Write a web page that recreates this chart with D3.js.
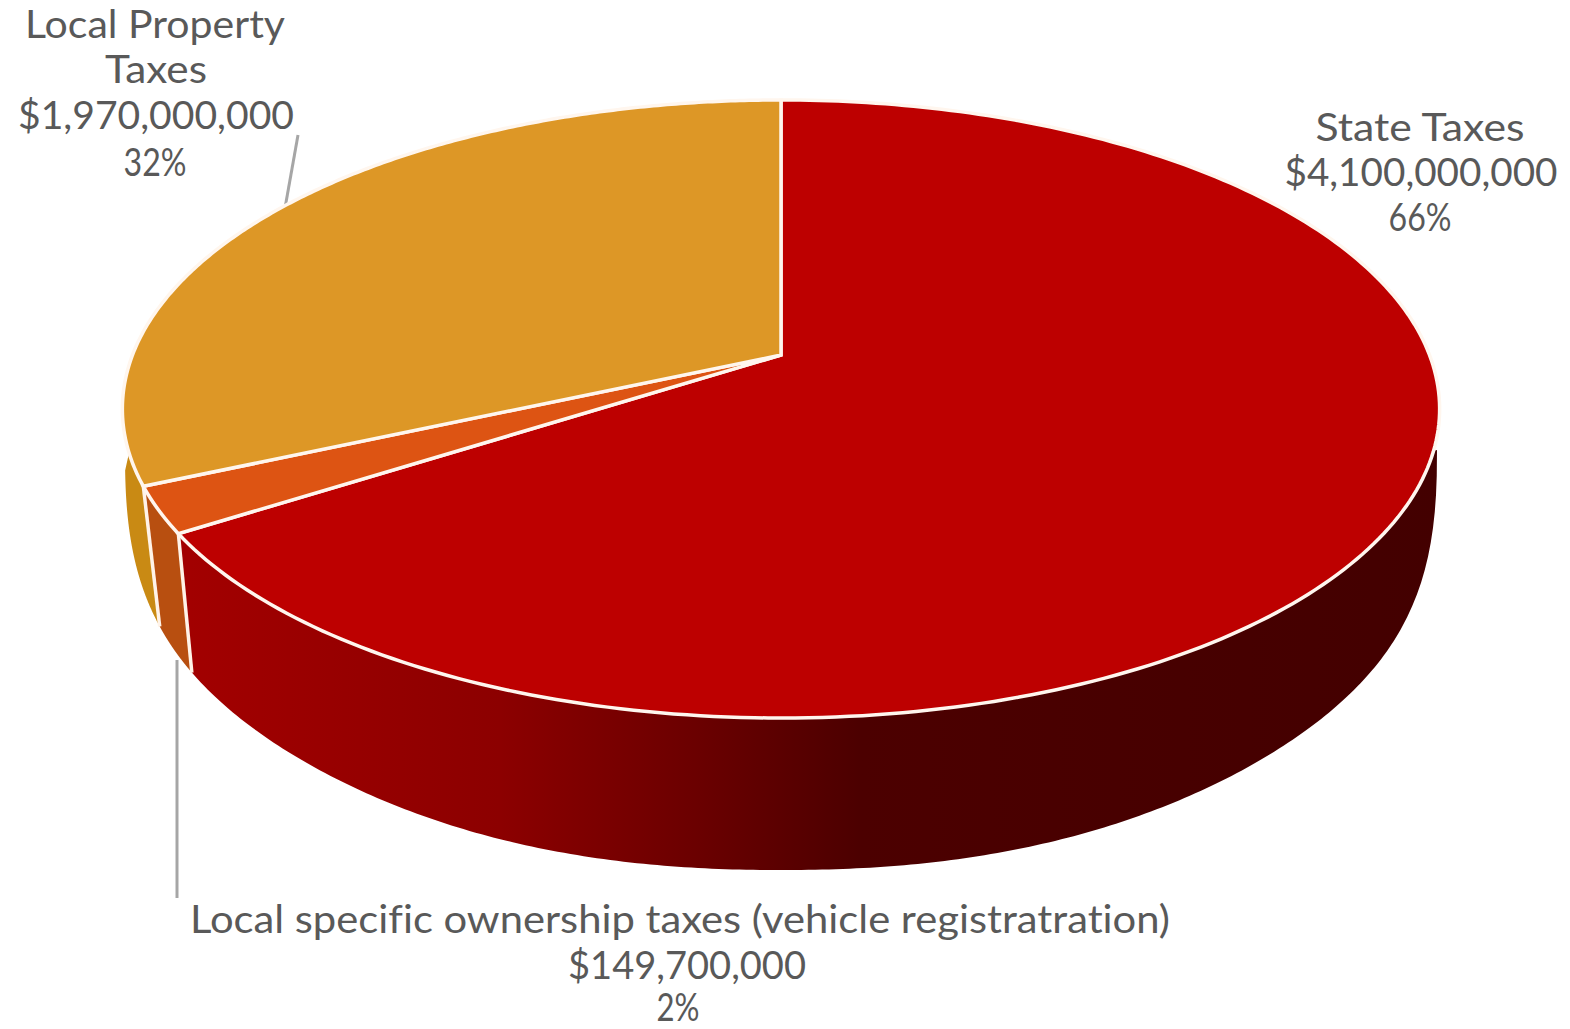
<!DOCTYPE html>
<html>
<head>
<meta charset="utf-8">
<script src="https://cdn.jsdelivr.net/npm/d3@7"></script>
<style>
  html, body { margin: 0; background: #fff; }
  svg { display: block; }
  text { font-family: Lato, "Noto Sans", sans-serif; font-size: 38px; fill: #595959; text-anchor: middle; font-variant-ligatures: none; }
</style>
</head>
<body>
<svg id="chart" width="1570" height="1029"></svg>
<script>
// Revenue sources, in slice order clockwise from twelve o'clock
const sources = ["State Taxes", "Local specific ownership taxes (vehicle registratration)", "Local Property Taxes"];
const amounts = [4100000000, 149700000, 1970000000];
const topColors = ["#bd0000", "#dd5413", "#dd9726"];
const sideColors = ["url(#stateSide)", "#b84f10", "#c98a14"];

// Label lines: [text, centre x, baseline y, drawn width]
const labelLines = [
  ["State Taxes", 1420, 141, 209],
  ["$4,100,000,000", 1421, 186, 273],
  ["66%", 1420, 231, 63],
  ["Local specific ownership taxes (vehicle registratration)", 680, 933, 980],
  ["$149,700,000", 687, 979, 238],
  ["2%", 678, 1021, 43],
  ["Local Property", 155, 38, 260],
  ["Taxes", 156, 83, 102],
  ["$1,970,000,000", 156, 129, 276],
  ["32%", 155, 176, 63]
];

// Side shading of the large slice, left to right
const shadeStops = [[190, "#a20000"], [500, "#8c0000"], [700, "#6a0000"], [860, "#4c0000"], [1440, "#430000"]];

// Tilted-disc projection of the top face: (u, v) on the unit circle
const tilt = { cx: 781, cy: 355, rx: 648.5, ry: 299.6, k: 0.1747 };
function projectTop(angle, radius) {
  const u = radius * Math.sin(angle), v = -radius * Math.cos(angle);
  const w = 1 - tilt.k * v;
  return [tilt.cx + tilt.rx * u / w, tilt.cy + tilt.ry * v / w];
}

// Lower rim of the wall: a curve that squares off toward the two side tips
const lower = { cy: 450, rx: 656, ry: 420 };
const sweep = d3.scaleLinear().domain([0, 57.3, 66, 72.4]).range([0, 63.9, 71.3, 90]).clamp(true);
function projectLower(angle) {
  const offset = angle * 180 / Math.PI - 180;
  const s = Math.sin(sweep(Math.abs(offset)) * Math.PI / 180);
  const power = 2.2 + 0.3 * Math.pow(s, 6);
  const c = Math.pow(Math.max(0, 1 - Math.pow(s, power)), 1 / power);
  return [tilt.cx + Math.sign(-offset) * lower.rx * s, lower.cy + lower.ry * c];
}

const slices = d3.pie().sort(null).value(d => d)(amounts);
const line = d3.line();
const rimAngles = (a0, a1) => d3.range(0, 241).map(i => d3.interpolateNumber(a0, a1)(i / 240));

// The wall only shows on the front of the disc, between the two side tips
const wallStart = 107.6 * Math.PI / 180, wallEnd = 252 * Math.PI / 180;

const svg = d3.select("#chart");

const grad = svg.append("defs").append("linearGradient")
  .attr("id", "stateSide").attr("gradientUnits", "userSpaceOnUse")
  .attr("x1", 0).attr("x2", 1570).attr("y1", 0).attr("y2", 0);
grad.selectAll("stop").data(shadeStops).join("stop")
  .attr("offset", d => d[0] / 1570).attr("stop-color", d => d[1]);

// Leader lines run under the pie and stop at its rim
const leaderData = [
  [[298, 135], [285, 208]],
  [[177, 898], [177, 660]]
];
svg.append("g").selectAll("path").data(leaderData).join("path")
  .attr("d", d => line(d)).attr("fill", "none").attr("stroke", "#a6a6a6").attr("stroke-width", 3);

// Outer wall of each slice, clipped to the front of the disc
svg.append("g").selectAll("path").data(slices).join("path")
  .attr("d", s => {
    const as = rimAngles(Math.max(s.startAngle, wallStart), Math.min(s.endAngle, wallEnd));
    return line(as.map(a => projectTop(a, 1)).concat(as.slice().reverse().map(projectLower))) + "Z";
  })
  .attr("fill", (s, i) => sideColors[i]);

// White seams down the wall at the two front slice boundaries
svg.append("g").selectAll("path").data([slices[0].endAngle, slices[1].endAngle]).join("path")
  .attr("d", a => line([projectTop(a, 1), projectLower(a)]))
  .attr("stroke", "#fff3e8").attr("stroke-width", 3.5).attr("fill", "none");

// Top faces with their white outlines
svg.append("g").selectAll("path").data(slices).join("path")
  .attr("d", s => line([projectTop(0, 0)].concat(rimAngles(s.startAngle, s.endAngle).map(a => projectTop(a, 1)))) + "Z")
  .attr("fill", (s, i) => topColors[i])
  .attr("stroke", "#fff6ee").attr("stroke-width", 3.5).attr("stroke-linejoin", "miter");

// Value labels
svg.append("g").selectAll("text").data(labelLines).join("text")
  .attr("x", d => d[1]).attr("y", d => d[2])
  .attr("textLength", d => d[3]).attr("lengthAdjust", "spacingAndGlyphs")
  .text(d => d[0]);
</script>
</body>
</html>
